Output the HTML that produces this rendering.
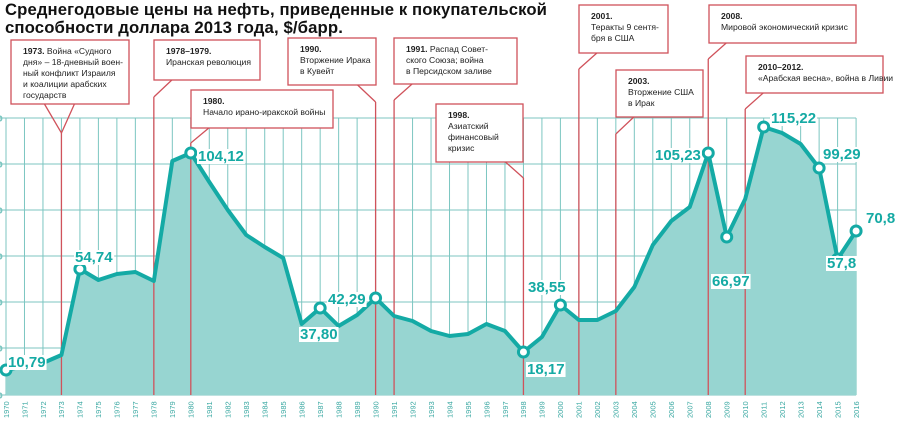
<!DOCTYPE html>
<html><head><meta charset="utf-8"><style>
body{margin:0;width:900px;height:421px;overflow:hidden;background:#fff;font-family:"Liberation Sans","DejaVu Sans",sans-serif}
svg{display:block}
.t{font-family:"Liberation Sans",sans-serif;font-weight:bold;font-size:16.5px;fill:#111;letter-spacing:0.1px}
.c{font-family:"Liberation Sans",sans-serif;font-size:8.6px;fill:#222}
.cb{font-weight:bold}
.v{font-family:"Liberation Sans",sans-serif;font-weight:bold;font-size:15px;fill:#15aaa4}
.yr{font-family:"Liberation Sans",sans-serif;font-size:7.5px;fill:#3aa8a2}
.box{fill:#fff;stroke:#d0525b;stroke-width:1.3}
.rl{stroke:#d0525b;stroke-width:1.3;fill:none}
</style></head><body>
<svg width="900" height="421" viewBox="0 0 900 421" xmlns="http://www.w3.org/2000/svg">
<text class="t" x="5" y="15" textLength="542" lengthAdjust="spacingAndGlyphs">Среднегодовые цены на нефть, приведенные к покупательской</text>
<text class="t" x="5" y="33" textLength="338" lengthAdjust="spacingAndGlyphs">способности доллара 2013 года, $/барр.</text>

<g id="grid" stroke="#7cc6c1" stroke-width="1">
</g>
<g id="fill"></g>
<g id="reds"></g>
<g id="line"></g>
<g id="labels"></g>
</svg>
<script>
const NS="http://www.w3.org/2000/svg";
const X=y=>6+(y-1970)*18.48;
const ys=[370,366,363,355,269,280,274,272,281,161,153,182,210,235,247,258,324,308,326,315,298,316,321,331,336,334,324,331,352,337,305,320,320,311,287,245,221,207,153,237,199,127,133,144,168,259,231];
function el(t,a,p,txt){const e=document.createElementNS(NS,t);for(const k in a)e.setAttribute(k,a[k]);if(txt!=null)e.textContent=txt;p.appendChild(e);return e;}
const svg=document.querySelector('svg');
const g=document.getElementById('grid');
for(let y=1970;y<=2016;y++){el('line',{x1:X(y),x2:X(y),y1:118,y2:395},g);}
[118,164,210,256,302,348,395].forEach(v=>{el('line',{x1:0,x2:X(2016),y1:v,y2:v},g);el('text',{x:-2,y:v+3,class:'yr'},g,'0');});
let pts=ys.map((v,i)=>X(1970+i)+','+v).join(' ');
el('polygon',{points:X(1970)+',395 '+pts+' '+X(2016)+',395',fill:'#97d5d1'},document.getElementById('fill'));
const lb=document.getElementById('labels');
for(let y=1970;y<=2016;y++){el('text',{class:'yr',transform:`translate(${X(y)+2.8},418) rotate(-90)`},lb,String(y));}
const r=document.getElementById('reds');
function call(yr,top,bx,by,bw,bh,side,lines){
  const x=X(yr);
  if(side==='tri'){
    el('line',{x1:x,x2:x,y1:top,y2:395,class:'rl'},r);
    el('polyline',{points:`${x-17},${by+bh} ${x},${top} ${x+13},${by+bh}`,class:'rl'},r);
  } else {
    el('line',{x1:x,x2:x,y1:top,y2:395,class:'rl'},r);
    const dx=side==='L'?18:-18;
    el('line',{x1:x,y1:top,x2:x+dx,y2:by+bh,class:'rl'},r);
  }
  el('rect',{x:bx,y:by,width:bw,height:bh,class:'box'},r);
  lines.forEach((l,i)=>{const t=el('text',{x:bx+12,y:by+14+i*11,class:'c'},r);
    if(i===0){el('tspan',{class:'cb'},t,l[0]);if(l[1])el('tspan',{},t,l[1]);} else t.textContent=l;});
}
call(1973,133,11,40,118,64,'tri',[['1973.',' Война «Судного'],'дня» – 18-дневный воен-','ный конфликт Израиля','и коалиции арабских','государств']);
call(1978,97,154,40,106,40,'L',[['1978–1979.'],'Иранская революция']);
call(1980,143,191,90,142,38,'L',[['1980.'],'Начало ирано-иракской войны']);
call(1990,102,288,38,88,47,'R',[['1990.'],'Вторжение Ирака','в Кувейт']);
call(1991,100,394,38,123,46,'L',[['1991.',' Распад Совет-'],'ского Союза; война','в Персидском заливе']);
call(1998,178,436,104,87,58,'R',[['1998.'],'Азиатский','финансовый','кризис']);
call(2001,69,579,5,89,48,'L',[['2001.'],'Теракты 9 сентя-','бря в США']);
call(2003,134,616,70,87,47,'L',[['2003.'],'Вторжение США','в Ирак']);
call(2008,59,709,5,147,38,'L',[['2008.'],'Мировой экономический кризис']);
call(2010,109,746,56,137,37,'L',[['2010–2012.'],'«Арабская весна», война в Ливии']);
const ln=document.getElementById('line');
el('polyline',{points:pts,fill:'none',stroke:'#14aaa5','stroke-width':4,'stroke-linejoin':'round'},ln);
[1970,1974,1980,1987,1990,1998,2000,2008,2009,2011,2014,2015,2016].forEach(y=>{
 el('circle',{cx:X(y),cy:ys[y-1970],r:5,fill:'#fff',stroke:'#14aaa5','stroke-width':3},ln);});
const vals=[['10,79',8,367],['54,74',75,262],['104,12',198,161],['37,80',300,339],['42,29',328,304],['38,55',528,292],['18,17',527,374],['105,23',655,160],['66,97',712,286],['115,22',771,123],['99,29',823,159],['57,8',827,268],['70,8',866,223]];
vals.forEach(v=>{const t=el('text',{x:v[1],y:v[2],class:'v'},ln,v[0]);const b=t.getBBox();
 const rc=document.createElementNS(NS,'rect');rc.setAttribute('x',b.x-1);rc.setAttribute('y',b.y+1);rc.setAttribute('width',b.width+2);rc.setAttribute('height',b.height-2);rc.setAttribute('fill','#fff');ln.insertBefore(rc,t);});
</script>
</body></html>
